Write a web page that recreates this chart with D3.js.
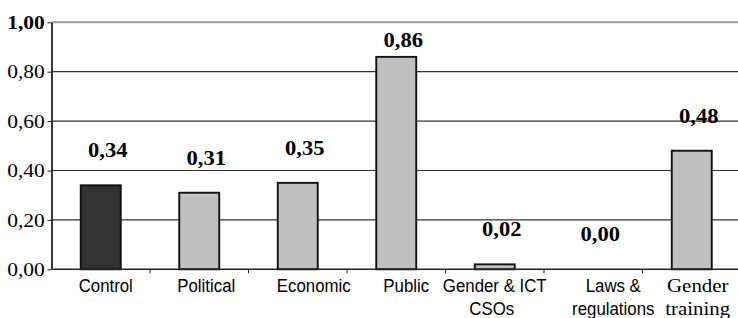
<!DOCTYPE html>
<html><head><meta charset="utf-8">
<script src="https://cdn.jsdelivr.net/npm/d3@7"></script>
<style>body{margin:0;background:#fff}svg{display:block}</style></head>
<body><svg id="c" width="738" height="318"></svg>
<script>
// ---- data ----
const categories = ["Control","Political","Economic","Public","Gender & ICT CSOs","Laws & regulations","Gender training"];
const values = [0.34, 0.31, 0.35, 0.86, 0.02, 0.00, 0.48];
const valueLabels = ["0,34","0,31","0,35","0,86","0,02","0,00","0,48"];
const yTickValues = [0, 0.2, 0.4, 0.6, 0.8, 1.0];
const yTickLabels = ["0,00","0,20","0,40","0,60","0,80","1,00"];
const xLabelLines = [["Control"],["Political"],["Economic"],["Public"],["Gender & ICT","CSOs"],["Laws &","regulations"],["Gender","training"]];

// ---- layout ----
const xLabelNudge = [5, 7, 16, 10, 0, 20, 6];
const serifLabels = [false,false,false,false,false,false,true];

const svg = d3.select("#c");
const x = d3.scaleBand().domain(categories).range([51.5, 741]).paddingInner(0.594).paddingOuter(0.297);
const y = d3.scaleLinear().domain([0, 1]).range([269.3, 22.3]);
const step = x.step();
const x0 = 51.5;

// gridlines
svg.append("g").selectAll("line").data(yTickValues.filter(v => v > 0))
  .join("line")
  .attr("x1", x0).attr("x2", 738)
  .attr("y1", d => y(d)).attr("y2", d => y(d))
  .attr("stroke", d => d === 1 ? "#9a9a9a" : "#333")
  .attr("stroke-width", d => d === 1 ? 2 : 1.2);

// bars
svg.append("g").selectAll("rect").data(categories)
  .join("rect")
  .attr("x", c => x(c))
  .attr("width", x.bandwidth())
  .attr("y", (c, i) => y(values[i]))
  .attr("height", (c, i) => y(0) - y(values[i]))
  .attr("fill", (c, i) => i === 0 ? "#333333" : "#c0c0c0")
  .attr("stroke", "#111")
  .attr("stroke-width", 1.9);

// x axis
svg.append("line").attr("x1", x0).attr("x2", 738).attr("y1", y(0)).attr("y2", y(0))
  .attr("stroke", "#222").attr("stroke-width", 1.5);
svg.append("g").selectAll("line").data(d3.range(1, categories.length))
  .join("line")
  .attr("x1", k => x0 + k * step).attr("x2", k => x0 + k * step)
  .attr("y1", y(0)).attr("y2", y(0) + 4)
  .attr("stroke", "#222").attr("stroke-width", 1);

// y axis
const yAxis = d3.axisLeft(y).tickValues(yTickValues).tickSize(4).tickSizeOuter(0)
  .tickFormat((d, i) => yTickLabels[i]);
const gy = svg.append("g").attr("transform", `translate(${x0},0)`).call(yAxis);
gy.select(".domain").attr("stroke", "#222").attr("stroke-width", 1.8);
gy.selectAll(".tick line").attr("stroke", "#222").attr("stroke-width", 1);
gy.selectAll(".tick text")
  .attr("font-family", "'Liberation Serif', 'Times New Roman', serif")
  .attr("font-size", 19)
  .attr("fill", "#000")
  .attr("x", -6).attr("dy", "0.33em")
  .attr("font-weight", d => d === 1 ? "bold" : "normal")
  .attr("transform", "scale(1.13,1)");

// value labels
svg.append("g").selectAll("text").data(categories)
  .join("text")
  .attr("transform", (c, i) => {
    const cx = x(c) + x.bandwidth() / 2 + 7;
    const by = Math.max(y(values[i]) - 28, y(1) + 24.5);
    return `translate(${cx},${by}) scale(1.13,1)`;
  })
  .attr("text-anchor", "middle")
  .attr("font-family", "'Liberation Serif', 'Times New Roman', serif")
  .attr("font-weight", "bold")
  .attr("font-size", 20)
  .attr("fill", "#000")
  .text((c, i) => valueLabels[i]);

// x labels
const xl = svg.append("g").selectAll("g").data(categories).join("g");
xl.each(function(c, i) {
  const g = d3.select(this);
  const cx = x(c) + x.bandwidth() / 2 + xLabelNudge[i];
  xLabelLines[i].forEach((line, j) => {
    g.append("text")
      .attr("transform", `translate(${cx - (j && i === 4 ? 3 : 0)},${291.5 + j * 23.5}) scale(${serifLabels[i] ? 1.1 : 0.91},1)`)
      .attr("text-anchor", "middle")
      .attr("font-family", serifLabels[i] ? "'Liberation Serif', serif" : "'Liberation Sans', Arial, sans-serif")
      .attr("font-size", serifLabels[i] ? 19 : 18.5)
      .attr("fill", "#000")
      .text(line);
  });
});
</script></body></html>
